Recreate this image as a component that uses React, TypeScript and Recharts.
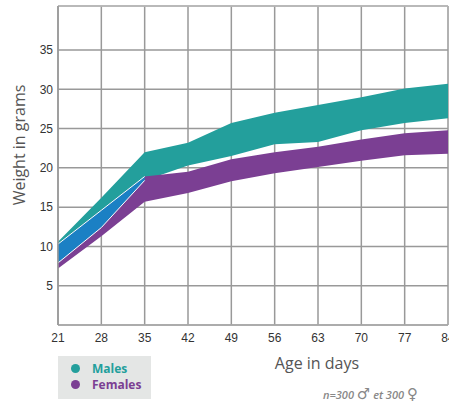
import React from "react";
import { Area, CartesianGrid, ComposedChart, ReferenceLine, XAxis, YAxis } from "recharts";

const DAYS = [21, 28, 35, 42, 49, 56, 63, 70, 77, 84];
const MALE_LOW = [7.9, 12.4, 18.4, 20.3, 21.5, 23.0, 23.3, 24.8, 25.7, 26.3];
const MALE_HIGH = [10.6, 16.2, 22.0, 23.2, 25.7, 27.0, 28.0, 29.0, 30.1, 30.7];
const FEMALE_LOW = [7.2, 11.3, 15.7, 16.8, 18.3, 19.3, 20.1, 20.9, 21.6, 21.8];
const FEMALE_HIGH = [10.3, 14.6, 18.9, 19.5, 21.1, 22.0, 22.7, 23.6, 24.4, 24.8];
const Y_TICKS = [5, 10, 15, 20, 25, 30, 35];
const Y_MAX = 40.6;

const TEAL = "#239f9c";
const PURPLE = "#7b3f93";
const BLUE = "#1b80c4";
const GRID = "#999";

const data = DAYS.map((day, i) => {
  const lo = Math.max(MALE_LOW[i], FEMALE_LOW[i]);
  const hi = Math.min(MALE_HIGH[i], FEMALE_HIGH[i]);
  return {
    day,
    male: [MALE_LOW[i], MALE_HIGH[i]],
    female: [FEMALE_LOW[i], FEMALE_HIGH[i]],
    both: lo < hi ? [lo, hi] : null,
  };
});

const tick = { fontFamily: "'Liberation Sans', Arial, sans-serif", fontSize: 12, fill: "#333" };
const title = { fontFamily: "'Open Sans', sans-serif", color: "#555", position: "absolute" as const };
const sym = { fontFamily: "'DejaVu Sans', sans-serif", fontStyle: "normal", fontWeight: 400, fontSize: 15 };

export default function App() {
  return (
    <div style={{ width: 449, height: 405, overflow: "hidden", position: "relative", background: "#fff" }}>
      <style>{"html, body { margin: 0; padding: 0; overflow: hidden; }"}</style>
      <ComposedChart width={470} height={405} data={data} margin={{ top: 6, right: 22, bottom: 50, left: 0 }}>
        <CartesianGrid stroke={GRID} strokeWidth={1.5} />
        <XAxis
          dataKey="day"
          type="number"
          domain={[21, 84]}
          ticks={DAYS}
          interval={0}
          height={30}
          tickLine={false}
          tickSize={0}
          tickMargin={8}
          stroke="#aaa"
          strokeWidth={1.5}
          tick={tick}
        />
        <YAxis
          type="number"
          domain={[0, Y_MAX]}
          ticks={Y_TICKS}
          width={58}
          tickLine={false}
          tickSize={0}
          tickMargin={5}
          stroke={GRID}
          strokeWidth={1.5}
          tick={tick}
        />
        <ReferenceLine y={Y_MAX} stroke="#bbb" strokeWidth={1.5} />
        <Area dataKey="male" type="linear" fill={TEAL} fillOpacity={1} stroke="none" dot={false} activeDot={false} isAnimationActive={false} />
        <Area dataKey="female" type="linear" fill={PURPLE} fillOpacity={1} stroke="none" dot={false} activeDot={false} isAnimationActive={false} />
        <Area dataKey="both" type="linear" fill={BLUE} fillOpacity={1} stroke="#fff" strokeWidth={1} dot={false} activeDot={false} isAnimationActive={false} />
      </ComposedChart>

      <div style={{ ...title, left: 19, top: 145, fontSize: 16, transform: "translate(-50%, -50%) rotate(-90deg)", whiteSpace: "nowrap" }}>
        Weight in grams
      </div>
      <div style={{ ...title, left: 317, top: 363, fontSize: 16, transform: "translate(-50%, -50%)", whiteSpace: "nowrap" }}>
        Age in days
      </div>

      <div style={{ position: "absolute", left: 58, top: 356, width: 93, height: 43, background: "#e4e6e5", fontFamily: "'Open Sans', sans-serif", fontWeight: 700, fontSize: 12 }}>
        {[{ name: "Males", color: TEAL }, { name: "Females", color: PURPLE }].map((s, i) => (
          <div key={s.name} style={{ position: "absolute", left: 13, top: 4 + i * 16, display: "flex", alignItems: "center", color: s.color }}>
            <span style={{ width: 9, height: 9, borderRadius: "50%", background: s.color, display: "inline-block", marginRight: 12 }} />
            {s.name}
          </div>
        ))}
      </div>

      <div style={{ position: "absolute", left: 323, top: 385, fontFamily: "'Open Sans', sans-serif", fontStyle: "italic", fontWeight: 600, fontSize: 11, color: "#888", whiteSpace: "nowrap", lineHeight: "18px" }}>
        n=300 <span style={sym}>♂</span> et 300 <span style={sym}>♀</span>
      </div>
    </div>
  );
}
